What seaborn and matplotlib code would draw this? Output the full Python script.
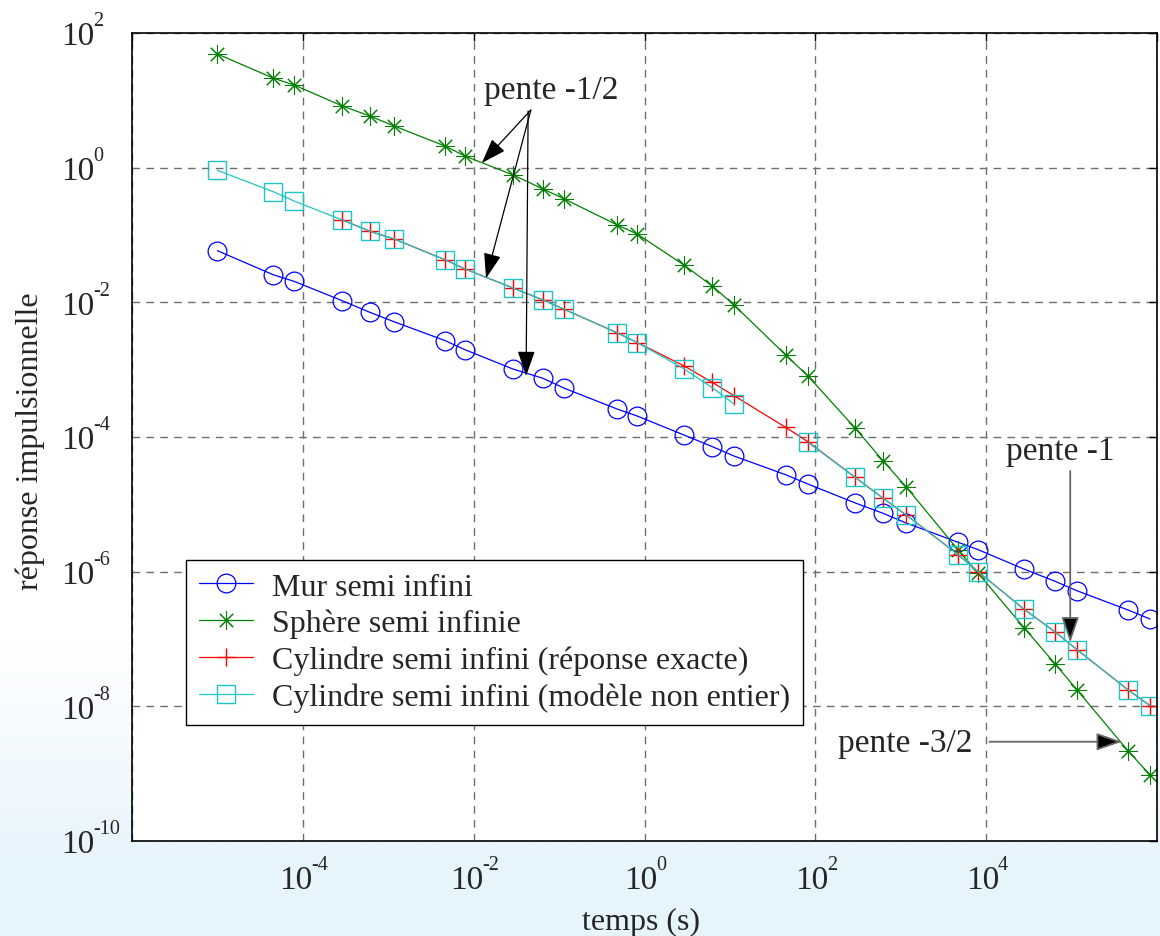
import numpy as np
import pandas as pd
import matplotlib
matplotlib.use("Agg")
import matplotlib.pyplot as plt
from matplotlib.lines import Line2D
from matplotlib.ticker import NullLocator, FixedLocator
from matplotlib.transforms import blended_transform_factory, ScaledTranslation
import seaborn as sns

# ---------------- data ----------------
temps = [1.0e-5, 4.5e-5, 7.9e-5, 2.9e-4, 6.1e-4, 1.17e-3, 4.6e-3, 7.9e-3,
         2.9e-2, 6.5e-2, 0.115, 0.48, 0.82, 2.9, 6.2, 11.2, 45, 82, 292,
         622, 1160, 4700, 8050, 27900, 64300, 116000, 460000, 832000]

mur = [0.0585, 0.0257, 0.0205, 0.01056, 7.10e-3, 5.15e-3, 2.71e-3, 1.98e-3,
       1.02e-3, 7.43e-4, 5.30e-4, 2.60e-4, 2.05e-4, 1.07e-4, 7.21e-5, 5.21e-5,
       2.75e-5, 2.00e-5, 1.05e-5, 7.35e-6, 5.27e-6, 2.73e-6, 2.12e-6, 1.09e-6,
       7.18e-7, 5.20e-7, 2.69e-7, 1.98e-7]

sphere = [48.7, 21.4, 16.9, 8.24, 5.85, 4.16, 2.10, 1.49, 0.778, 0.482,
          0.343, 0.141, 0.1035, 0.0358, 0.0175, 9.12e-3, 1.65e-3, 8.05e-4,
          1.36e-4, 4.40e-5, 1.81e-5, 2.10e-6, 9.5e-7, 1.46e-7, 4.25e-8,
          1.75e-8, 2.17e-9, 9.55e-10]

temps_exact = temps[3:]
cyl_exact = [0.167, 0.1135, 0.0873, 0.0430, 0.0313, 0.0163, 0.01082, 7.87e-3,
             3.52e-3, 2.53e-3, 1.14e-3, 6.49e-4, 4.10e-4, 1.39e-4, 8.51e-5,
             2.52e-5, 1.23e-5, 6.93e-6, 1.79e-6, 9.98e-7, 2.76e-7, 1.27e-7,
             6.93e-8, 1.75e-8, 1.02e-8]

temps_modele_court = temps[:16]
modele_court = [0.914, 0.440, 0.320, 0.167, 0.1135, 0.0873, 0.0430, 0.0313,
                0.0163, 0.01082, 7.87e-3, 3.52e-3, 2.53e-3, 1.03e-3, 5.40e-4,
                3.09e-4]
temps_modele_long = temps[17:]
modele_long = [8.34e-5, 2.52e-5, 1.23e-5, 6.93e-6, 1.79e-6, 9.98e-7, 2.76e-7,
               1.27e-7, 6.93e-8, 1.75e-8, 1.02e-8]

series_labels = ["Mur semi infini", "Sphère semi infinie",
                 "Cylindre semi infini (réponse exacte)",
                 "Cylindre semi infini (modèle non entier)"]

x_ticks = [1e-6, 1e-4, 1e-2, 1e0, 1e2, 1e4, 1e6]
x_tick_exponents = ["", "-4", "-2", "0", "2", "4", ""]
y_ticks = [1e-10, 1e-8, 1e-6, 1e-4, 1e-2, 1e0, 1e2]
y_tick_exponents = ["-10", "-8", "-6", "-4", "-2", "0", "2"]

# ---------------- style ----------------
sns.set_theme(style="white")
plt.rcParams["font.family"] = ["Liberation Serif", "DejaVu Serif"]

C_BLUE = "#0000ff"
C_GREEN = "#008000"
C_RED = "#ff0000"
C_CYAN = "#1fc4c4"

fig = plt.figure(figsize=(11.6, 9.37), dpi=100)
fig.patch.set_facecolor("white")

# background gradient (white -> light blue toward the bottom)
bg = fig.add_axes([0, 0, 1, 1], zorder=-10)
H = 937
rows = np.arange(H)
frac = np.clip((rows - 640) / (870 - 640), 0, 1)
top = np.array([1.0, 1.0, 1.0])
bot = np.array([230, 244, 252]) / 255.0
grad = top[None, :] * (1 - frac[:, None]) + bot[None, :] * frac[:, None]
img = np.repeat(grad[:, None, :], 10, axis=1)
bg.imshow(img, aspect="auto", extent=[0, 1, 0, 1], origin="upper")
bg.set_axis_off()

ax = fig.add_axes([132 / 1160, 1 - 842 / 937, 1025 / 1160, 808 / 937])
ax.set_facecolor("white")
ax.set_xscale("log")
ax.set_yscale("log")

lw = 0.9
ms = 13.5
sns.lineplot(x=temps, y=mur, ax=ax, estimator=None, sort=False,
             color=C_BLUE, linewidth=lw, marker="o", markersize=ms,
             markerfacecolor="none", markeredgecolor=C_BLUE,
             markeredgewidth=0.9, legend=False)
star = (8, 2, 0)
sns.lineplot(x=temps, y=sphere, ax=ax, estimator=None, sort=False,
             color=C_GREEN, linewidth=lw, marker=star, markersize=ms,
             markerfacecolor=C_GREEN, markeredgecolor=C_GREEN,
             markeredgewidth=0.75, legend=False)
sns.lineplot(x=temps_exact, y=cyl_exact, ax=ax, estimator=None, sort=False,
             color=C_RED, linewidth=lw, marker="+", markersize=ms,
             markeredgecolor=C_RED, markeredgewidth=1.0, legend=False)
df_mod = pd.DataFrame({
    "t": temps_modele_court + temps_modele_long,
    "y": modele_court + modele_long,
    "seg": [0] * len(modele_court) + [1] * len(modele_long),
})
sns.lineplot(data=df_mod, x="t", y="y", units="seg", ax=ax, estimator=None,
             sort=False, color=C_CYAN, linewidth=lw, marker="s",
             markersize=ms, markerfacecolor="none", markeredgecolor=C_CYAN,
             markeredgewidth=1.0, legend=False)

ax.set_xlim(1e-6, 1e6)
ax.set_ylim(1e-10, 1e2)
ax.xaxis.set_major_locator(FixedLocator(x_ticks))
ax.yaxis.set_major_locator(FixedLocator(y_ticks))
ax.xaxis.set_minor_locator(NullLocator())
ax.yaxis.set_minor_locator(NullLocator())
ax.set_xticklabels([])
ax.set_yticklabels([])
ax.tick_params(which="both", direction="in", top=True, right=True,
               length=6, width=1.0, colors="black")
ax.grid(True, which="major", color="#6e6e6e", linestyle=(0, (5.5, 4.5)),
        linewidth=1.0)
for sp in ax.spines.values():
    sp.set_visible(True)
    sp.set_color("black")
    sp.set_linewidth(1.2)
ax.set_xlabel("")
ax.set_ylabel("")

# ---- tick labels "10" + raised exponent (MATLAB style) ----
BASE_PT = 24
EXP_PT = 14.5
em_b = BASE_PT * 100 / 72.0
em_e = EXP_PT * 100 / 72.0
base_ink = 0.865 * em_b          # ink width of "10"
RAISE = 19                        # px between baselines


def off(dx, dy):
    return ScaledTranslation(dx / 100.0, dy / 100.0, fig.dpi_scale_trans)


def exp_ink(s):
    return sum(0.31 if c == "-" else 0.45 for c in s) * em_e


tr_y = blended_transform_factory(ax.transAxes, ax.transData)
for v, e in zip(y_ticks, y_tick_exponents):
    ax.text(0, v, "10", transform=tr_y + off(-71, -11.3), ha="left",
            va="baseline", fontsize=BASE_PT, clip_on=False)
    ax.text(0, v, e, transform=tr_y + off(-71 + base_ink + 3, -11.3 + RAISE),
            ha="left", va="baseline", fontsize=EXP_PT, clip_on=False)

tr_x = blended_transform_factory(ax.transData, ax.transAxes)
for v, e in zip(x_ticks, x_tick_exponents):
    if not e:
        continue
    total = base_ink + 3 + exp_ink(e)
    x0 = -total / 2.0
    ax.text(v, 0, "10", transform=tr_x + off(x0, -47), ha="left",
            va="baseline", fontsize=BASE_PT, clip_on=False)
    ax.text(v, 0, e, transform=tr_x + off(x0 + base_ink + 3, -47 + RAISE),
            ha="left", va="baseline", fontsize=EXP_PT, clip_on=False)

fig.text(641 / 1160, 1 - 922 / 937, "temps (s)", ha="center", va="center",
         fontsize=23)
fig.text(30 / 1160, 1 - 441 / 937, "réponse impulsionnelle", rotation=90,
         ha="center", va="center", fontsize=23)

# legend
handles = [
    Line2D([], [], color=C_BLUE, lw=lw, marker="o", markersize=ms,
           markerfacecolor="none", markeredgecolor=C_BLUE, markeredgewidth=0.9),
    Line2D([], [], color=C_GREEN, lw=lw, marker=star, markersize=ms,
           markeredgecolor=C_GREEN, markeredgewidth=0.75),
    Line2D([], [], color=C_RED, lw=lw, marker="+", markersize=ms,
           markeredgecolor=C_RED, markeredgewidth=1.0),
    Line2D([], [], color=C_CYAN, lw=lw, marker="s", markersize=ms,
           markerfacecolor="none", markeredgecolor=C_CYAN, markeredgewidth=1.0),
]
leg = ax.legend(handles, series_labels, loc="lower left",
                bbox_to_anchor=(0.0527, 0.1436), frameon=True, fancybox=False,
                edgecolor="black", framealpha=1, fontsize=23,
                handlelength=1.7, handletextpad=0.6, labelspacing=0.23,
                borderpad=0.4, borderaxespad=0)
leg.get_frame().set_linewidth(1.0)
leg.set_zorder(5)

# annotations
head = "-|>,head_length=1.3,head_width=0.45"
ax.text(0.08, 10.8, "pente -1/2", ha="center", va="baseline", fontsize=24)
for tip in [(0.01245, 1.17), (0.01396, 0.02275)]:
    ax.annotate("", xy=tip, xytext=(0.0467, 7.18),
                arrowprops=dict(arrowstyle=head, color="black", lw=0.9,
                                shrinkA=0, shrinkB=0))
ax.annotate("", xy=(0.0411, 8.05e-4), xytext=(0.0434, 6.94),
            arrowprops=dict(arrowstyle=head, color="black", lw=0.9,
                            shrinkA=0, shrinkB=0))

ax.text(73400, 4.71e-5, "pente -1", ha="center", va="baseline", fontsize=24)
ax.annotate("", xy=(96400, 8.9e-8), xytext=(96400, 3.13e-5),
            arrowprops=dict(arrowstyle=head, edgecolor="#666666",
                            facecolor="black", lw=1.3, shrinkA=0, shrinkB=0))

ax.text(1140, 2.19e-9, "pente -3/2", ha="center", va="baseline", fontsize=24)
ax.annotate("", xy=(388000, 2.98e-9), xytext=(10930, 2.98e-9),
            arrowprops=dict(arrowstyle=head, edgecolor="#666666",
                            facecolor="black", lw=1.3, shrinkA=0, shrinkB=0))

fig.savefig("out.png", dpi=100)
